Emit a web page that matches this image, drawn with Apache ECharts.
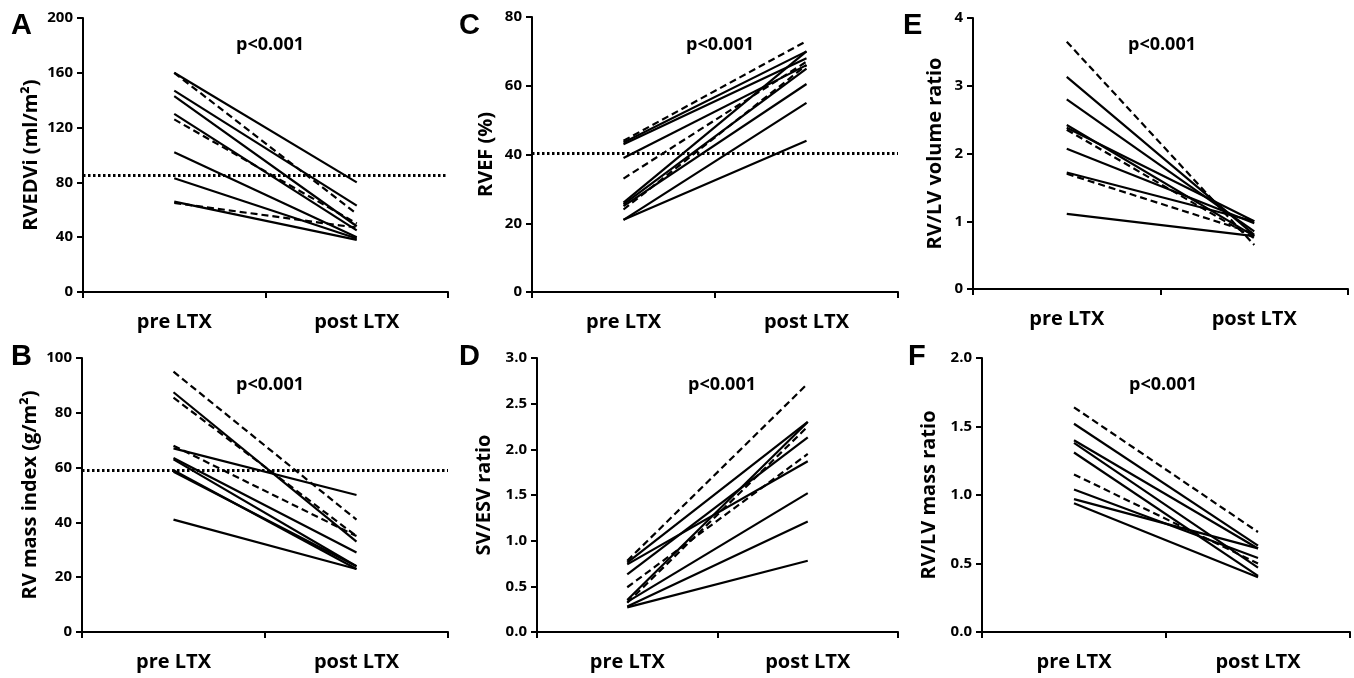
<!DOCTYPE html>
<html>
<head>
<meta charset="utf-8">
<script src="https://cdn.jsdelivr.net/npm/echarts@6/dist/echarts.min.js"></script>
<style>
html,body{margin:0;padding:0;background:#fff;}
#chart{width:1354px;height:678px;}
</style>
</head>
<body>
<div id="chart"></div>
<script>
// ---- data ----
const categories = ['pre LTX', 'post LTX'];

// Panel A: RVEDVi (ml/m²)
const aPre  = [160, 160, 147, 143, 130, 126, 102, 83, 66, 65];
const aPost = [80, 57, 63, 48, 45, 50, 40, 39, 38, 47];
const aDash = [0, 1, 0, 0, 0, 1, 0, 0, 0, 1];
const aRef = 85;

// Panel C: RVEF (%)
const cPre  = [44, 43.5, 43, 39, 33, 26, 25.5, 24, 25, 21, 21];
const cPost = [73, 70, 68, 66, 67, 70, 65, 66, 60.5, 55, 44];
const cDash = [1, 0, 0, 0, 1, 0, 0, 1, 0, 0, 0];
const cRef = 40.5;

// Panel E: RV/LV volume ratio
const ePre  = [3.65, 3.13, 2.80, 2.42, 2.38, 2.35, 2.07, 1.72, 1.70, 1.11];
const ePost = [0.65, 0.80, 0.85, 0.78, 1.00, 0.75, 0.97, 1.00, 0.82, 0.78];
const eDash = [1, 0, 0, 0, 0, 1, 0, 0, 1, 0];

// Panel B: RV mass index (g/m²)
const bPre  = [95, 87.5, 85.5, 68, 67, 63.5, 63, 59, 58.5, 41];
const bPost = [41, 33, 35, 35, 50, 29, 24, 23, 24, 23];
const bDash = [1, 0, 1, 1, 0, 0, 0, 0, 0, 0];
const bRef = 59;

// Panel D: SV/ESV ratio
const dPre  = [0.78, 0.76, 0.74, 0.63, 0.49, 0.35, 0.32, 0.33, 0.28, 0.27];
const dPost = [2.72, 2.30, 1.87, 2.13, 1.95, 2.30, 2.25, 1.52, 1.21, 0.78];
const dDash = [1, 0, 0, 0, 1, 0, 1, 0, 0, 0];

// Panel F: RV/LV mass ratio
const fPre  = [1.64, 1.52, 1.40, 1.38, 1.31, 1.15, 1.04, 0.97, 0.94];
const fPost = [0.73, 0.63, 0.61, 0.47, 0.41, 0.50, 0.54, 0.61, 0.40];
const fDash = [1, 0, 0, 0, 0, 1, 0, 0, 0];

const pText = 'p<0.001';

// ---- layout ----
const FONT = '"Open Sans", Lato, sans-serif';
const panels = [
  {letter:'A', pre:aPre, post:aPost, dash:aDash, ref:aRef, name:'RVEDVi (ml/m²)', max:200, interval:40, dec:0, gap:42,
   grid:{left:83, top:18, width:365, height:274}, lx:11, ly:11, px:270, py:45},
  {letter:'C', pre:cPre, post:cPost, dash:cDash, ref:cRef, name:'RVEF (%)', max:80, interval:20, dec:0, gap:36,
   grid:{left:532, top:17, width:366, height:275}, lx:459, ly:11, px:720, py:45},
  {letter:'E', pre:ePre, post:ePost, dash:eDash, ref:null, name:'RV/LV volume ratio', max:4, interval:1, dec:0, gap:28,
   grid:{left:973, top:18, width:375, height:271}, lx:903, ly:11, px:1162, py:45},
  {letter:'B', pre:bPre, post:bPost, dash:bDash, ref:bRef, name:'RV mass index (g/m²)', max:100, interval:20, dec:0, gap:42,
   grid:{left:82, top:358, width:366, height:274}, lx:11, ly:342, px:270, py:385},
  {letter:'D', pre:dPre, post:dPost, dash:dDash, ref:null, name:'SV/ESV ratio', max:3, interval:0.5, dec:1, gap:43,
   grid:{left:537, top:358, width:361, height:274}, lx:459, ly:342, px:722, py:385},
  {letter:'F', pre:fPre, post:fPost, dash:fDash, ref:null, name:'RV/LV mass ratio', max:2, interval:0.5, dec:1, gap:43,
   grid:{left:982, top:358, width:368, height:274}, lx:908, ly:342, px:1163, py:385}
];

const grids = [], xAxes = [], yAxes = [], series = [], graphics = [];
panels.forEach((p, i) => {
  grids.push(Object.assign({containLabel:false}, p.grid));
  xAxes.push({
    type:'category', gridIndex:i, data:categories, boundaryGap:true,
    axisLine:{show:true, lineStyle:{color:'#000', width:2}},
    axisTick:{show:true, length:6, lineStyle:{color:'#000', width:2}},
    axisLabel:{color:'#000', fontFamily:FONT, fontWeight:'bold', fontSize:20, margin:20},
    splitLine:{show:false}
  });
  yAxes.push({
    type:'value', gridIndex:i, min:0, max:p.max, interval:p.interval,
    name:p.name, nameLocation:'middle', nameRotate:90, nameGap:p.gap,
    nameTextStyle:{color:'#000', fontFamily:FONT, fontWeight:'bold', fontSize:20},
    axisLine:{show:true, lineStyle:{color:'#000', width:2}},
    axisTick:{show:true, length:6, lineStyle:{color:'#000', width:2}},
    axisLabel:{color:'#000', fontFamily:FONT, fontWeight:'bold', fontSize:15, margin:10,
      formatter:(v)=>v.toFixed(p.dec)},
    splitLine:{show:false}
  });
  p.pre.forEach((v, k) => {
    const s = {
      type:'line', xAxisIndex:i, yAxisIndex:i, data:[v, p.post[k]],
      symbol:'none', silent:true,
      lineStyle:{color:'#000', width:2.2, type: p.dash[k] ? [7,4] : 'solid'},
      z: p.dash[k] ? 3 : 2
    };
    if (k === 0 && p.ref !== null) {
      s.markLine = {
        silent:true, symbol:['none','none'], label:{show:false},
        lineStyle:{color:'#000', width:3, type:[2.5,2.5]},
        data:[{yAxis:p.ref}]
      };
    }
    series.push(s);
  });
  graphics.push({
    type:'text', left:p.lx, top:p.ly,
    style:{text:p.letter, font:'bold 29px "Liberation Sans", Arial, sans-serif', fill:'#000'}
  });
  graphics.push({
    type:'text', x:p.px, y:p.py,
    style:{text:pText, font:'bold 18px ' + FONT, fill:'#000', align:'center', verticalAlign:'middle'}
  });
});

const chart = echarts.init(document.getElementById('chart'), null, {renderer:'canvas'});
chart.setOption({
  animation:false,
  backgroundColor:'#fff',
  grid:grids, xAxis:xAxes, yAxis:yAxes, series:series, graphic:graphics
});
</script>
</body>
</html>
